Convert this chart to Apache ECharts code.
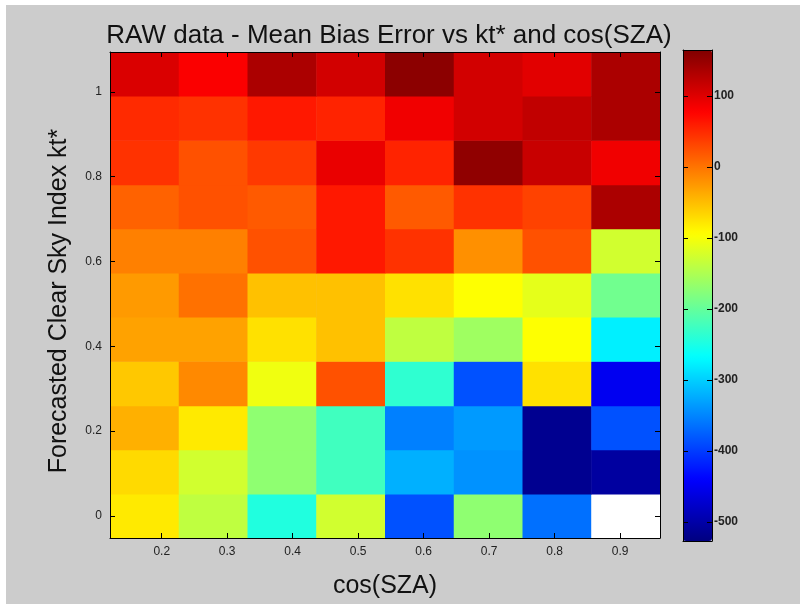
<!DOCTYPE html>
<html>
<head>
<meta charset="utf-8">
<script src="https://cdn.jsdelivr.net/npm/echarts@6/dist/echarts.min.js"></script>
<style>html,body{margin:0;padding:0;background:#fff}#c{width:800px;height:604px}</style>
</head>
<body>
<div id="c"></div>
<script>
// cos(SZA) bin edges (8 columns)
var cosEdges = [0.121, 0.226, 0.331, 0.436, 0.541, 0.646, 0.751, 0.856, 0.961];
// kt* bin edges (11 rows)
var ktEdges = [-0.052, 0.052, 0.156, 0.260, 0.365, 0.469, 0.573, 0.677, 0.781, 0.886, 0.990, 1.094];
// Mean Bias Error, rows from kt*≈0 (bottom) to kt*≈1.04 (top); null = no data
var mbeRows = [
  [-80, -138, -246, -126, -386, -171, -365, null],
  [-69, -126, -171, -224, -321, -342, -516, -505],
  [-41, -80, -171, -224, -354, -336, -516, -386],
  [-57, -14, -105, 24, -236, -386, -74, -450],
  [-31, -31, -74, -52, -138, -160, -95, -278],
  [-26, 2, -52, -52, -74, -95, -112, -191],
  [-8, -8, 24, 62, 45, -19, 24, -126],
  [12, 24, 18, 62, 18, 45, 34, 136],
  [45, 24, 40, 93, 55, 154, 116, 88],
  [50, 45, 62, 55, 88, 109, 121, 136],
  [104, 81, 136, 109, 157, 109, 98, 136]
];
var xTicks = [0.2, 0.3, 0.4, 0.5, 0.6, 0.7, 0.8, 0.9];
var yTicks = [0, 0.2, 0.4, 0.6, 0.8, 1];
var cbTicks = [-500, -400, -300, -200, -100, 0, 100];
var cbRange = [-527, 165];
var jet = ['#000080', '#0000ff', '#0080ff', '#00ffff', '#80ff80', '#ffff00', '#ff8000', '#ff0000', '#800000'];

var cells = [];
for (var r = 0; r < mbeRows.length; r++) {
  for (var c = 0; c < mbeRows[r].length; c++) {
    var v = mbeRows[r][c];
    cells.push([cosEdges[c], cosEdges[c + 1], ktEdges[r], ktEdges[r + 1], v === null ? NaN : v]);
  }
}

var FONT = '"Liberation Sans", Arial, Helvetica, sans-serif';
var lbl = {color: '#222', fontSize: 12, fontFamily: FONT};
var line = {show: true, onZero: false, lineStyle: {color: '#000', width: 1}};
var tick = {show: true, inside: true, length: 5, lineStyle: {color: '#000'}};

var chart = echarts.init(document.getElementById('c'), null, {renderer: 'canvas'});
chart.setOption({
  backgroundColor: '#ffffff',
  animation: false,
  graphic: [
    {type: 'rect', shape: {x: 6, y: 5, width: 800, height: 604}, style: {fill: '#cccccc'}, z: -10},
    {type: 'text', x: 59, y: 301, rotation: Math.PI / 2,
     style: {text: 'Forecasted Clear Sky Index kt*', fontFamily: FONT, fontSize: 25, fill: '#111',
             align: 'center', verticalAlign: 'middle'}, z: 10}
  ],
  title: {
    text: 'RAW data - Mean Bias Error vs kt* and cos(SZA)',
    left: 384, top: 18, textAlign: 'center',
    textStyle: {fontFamily: FONT, fontSize: 26, fontWeight: 'normal', color: '#111'}
  },
  grid: [
    {left: 110, top: 52, width: 550, height: 487, show: false},
    {left: 683, top: 50, width: 29, height: 491, show: false}
  ],
  xAxis: [
    {type: 'value', gridIndex: 0, position: 'bottom', min: cosEdges[0], max: cosEdges[cosEdges.length - 1],
     axisLine: line, axisTick: Object.assign({customValues: xTicks}, tick), splitLine: {show: false},
     axisLabel: Object.assign({customValues: xTicks, margin: 8}, lbl),
     name: 'cos(SZA)', nameLocation: 'middle', nameGap: 36,
     nameTextStyle: {fontFamily: FONT, fontSize: 25, color: '#111'}, z: 10},
    {type: 'value', gridIndex: 0, position: 'top', min: cosEdges[0], max: cosEdges[cosEdges.length - 1],
     axisLine: line, axisTick: Object.assign({customValues: xTicks}, tick), splitLine: {show: false},
     axisLabel: {show: false}, z: 10},
    {type: 'value', gridIndex: 1, position: 'bottom', min: 0, max: 1, axisLine: line, axisTick: {show: false},
     axisLabel: {show: false}, splitLine: {show: false}, z: 10},
    {type: 'value', gridIndex: 1, position: 'top', min: 0, max: 1, axisLine: line, axisTick: {show: false},
     axisLabel: {show: false}, splitLine: {show: false}, z: 10}
  ],
  yAxis: [
    {type: 'value', gridIndex: 0, position: 'left', min: ktEdges[0], max: ktEdges[ktEdges.length - 1],
     axisLine: line, axisTick: Object.assign({customValues: yTicks}, tick), splitLine: {show: false},
     axisLabel: Object.assign({customValues: yTicks, margin: 8}, lbl), z: 10},
    {type: 'value', gridIndex: 0, position: 'right', min: ktEdges[0], max: ktEdges[ktEdges.length - 1],
     axisLine: line, axisTick: Object.assign({customValues: yTicks}, tick), splitLine: {show: false},
     axisLabel: {show: false}, z: 10},
    {type: 'value', gridIndex: 1, position: 'left', min: cbRange[0], max: cbRange[1],
     axisLine: line, axisTick: Object.assign({customValues: cbTicks}, tick), splitLine: {show: false},
     axisLabel: {show: false}, z: 10},
    {type: 'value', gridIndex: 1, position: 'right', min: cbRange[0], max: cbRange[1],
     axisLine: line, axisTick: Object.assign({customValues: cbTicks}, tick), splitLine: {show: false},
     axisLabel: Object.assign({customValues: cbTicks, margin: 2, fontWeight: 'bold'}, lbl), z: 10}
  ],
  visualMap: {
    type: 'continuous', seriesIndex: 0, dimension: 4,
    min: cbRange[0], max: cbRange[1], calculable: false, realtime: false,
    orient: 'vertical', left: 683, top: 50, itemWidth: 29, itemHeight: 491,
    padding: 0, text: null, showLabel: false, hoverLink: false,
    inRange: {color: jet}, z: 4
  },
  series: [{
    type: 'custom', xAxisIndex: 0, yAxisIndex: 0,
    encode: {x: [0, 1], y: [2, 3]},
    data: cells,
    renderItem: function (params, api) {
      var p0 = api.coord([api.value(0), api.value(3)]);
      var p1 = api.coord([api.value(1), api.value(2)]);
      var v = api.value(4);
      var fill = isNaN(v) ? '#ffffff' : api.visual('color');
      return {
        type: 'rect',
        shape: {x: p0[0], y: p0[1], width: p1[0] - p0[0] + 0.5, height: p1[1] - p0[1] + 0.5},
        style: {fill: fill, stroke: null}
      };
    }
  }]
});
</script>
</body>
</html>
